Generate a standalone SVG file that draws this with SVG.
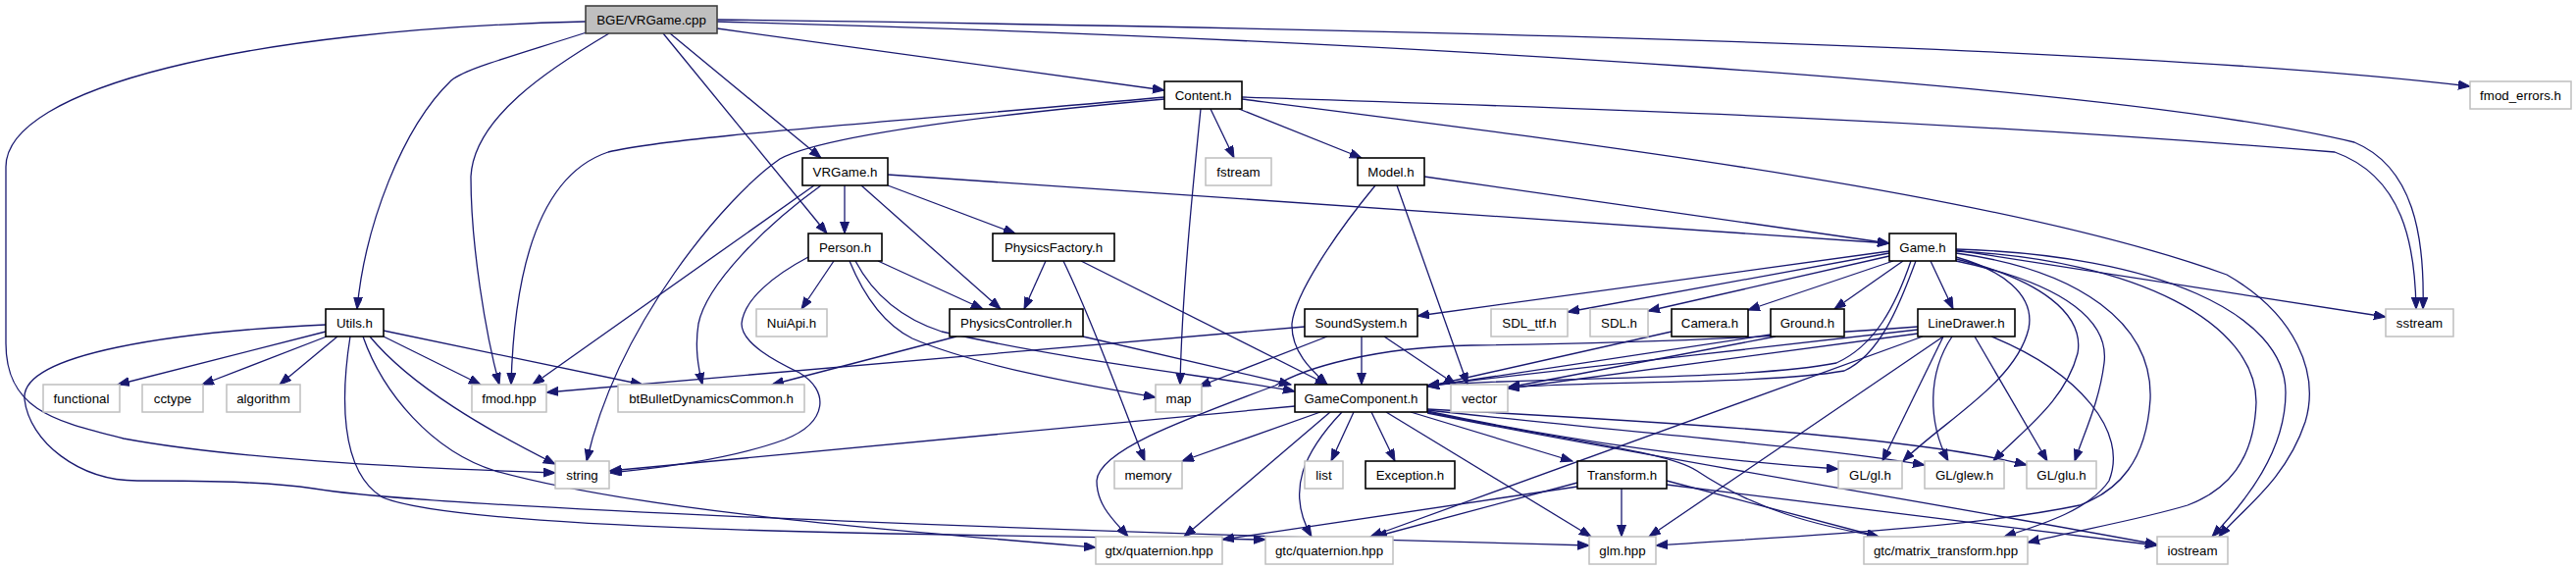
<svg xmlns="http://www.w3.org/2000/svg" width="2626" height="581" viewBox="0 0 2626 581">
<style>
.n rect{fill:#fff;stroke:#000;stroke-width:1.6}
.x rect{fill:#fff;stroke:#bfbfbf;stroke-width:1.5}
.r rect{fill:#bfbfbf;stroke:#404040;stroke-width:1.6}
text{font-family:"Liberation Sans",Arial,Helvetica,sans-serif;font-size:13.3px;text-anchor:middle;fill:#000}
#edges path{fill:none;stroke:#191970;stroke-width:1.3;marker-end:url(#a)}
</style>
<defs>
<marker id="a" markerWidth="13" markerHeight="10" refX="12" refY="4.5" orient="auto" markerUnits="userSpaceOnUse">
<path d="M0,0 L12,4.5 L0,9 z" fill="#191970" stroke="#191970" stroke-width="1"/>
</marker>
</defs>
<rect width="2626" height="581" fill="#fff"/>
<g id="edges">
<path d="M731,29 L1187,92"/>
<path d="M731,20 C1500,30 2200,50 2518,88"/>
<path d="M731,22 C1400,40 2150,85 2400,145 C2460,170 2472,240 2470,315"/>
<path d="M683,34 L837,161"/>
<path d="M676,34 L843,238"/>
<path d="M598,33 C520,58 475,70 460,82 C410,130 372,230 364,315"/>
<path d="M621,34 C560,70 483,120 480,180 C480,250 495,340 509,392"/>
<path d="M597,22 C250,30 6,90 6,170 L6,350 C6,420 60,430 126,447 C250,470 450,478 566,482"/>
<path d="M1187,99 C900,125 680,140 620,155 C560,175 525,250 521,392"/>
<path d="M1187,101 C1000,118 840,138 795,162 C740,200 630,330 598,470"/>
<path d="M1224,111 C1215,200 1205,300 1203,392"/>
<path d="M1234,111 L1258,161"/>
<path d="M1263,111 L1388,161"/>
<path d="M1266,99 C1600,110 1950,120 2380,155 C2450,180 2462,250 2463,315"/>
<path d="M1266,101 C1650,150 2050,200 2270,280 C2340,320 2365,380 2350,430 C2330,490 2285,520 2262,547"/>
<path d="M861,189 L861,238"/>
<path d="M905,189 L1035,238"/>
<path d="M905,178 L1926,248"/>
<path d="M830,189 L543,392"/>
<path d="M837,189 C780,230 720,290 712,330 C708,355 712,375 716,392"/>
<path d="M878,189 L1020,315"/>
<path d="M824,262 C790,280 758,305 756,330 C756,350 790,368 815,380 C845,398 845,430 800,448 C740,470 660,478 622,482"/>
<path d="M850,266 L817,315"/>
<path d="M866,266 C880,300 900,330 930,345 C1000,375 1120,395 1178,405"/>
<path d="M872,266 C890,300 920,325 960,338 C1100,370 1250,385 1320,399"/>
<path d="M895,266 L1002,315"/>
<path d="M1066,266 L1044,315"/>
<path d="M1084,266 C1110,320 1140,400 1167,470"/>
<path d="M1102,266 L1353,392"/>
<path d="M975,343 L787,392"/>
<path d="M1104,343 L1316,392"/>
<path d="M332,338 L120,392"/>
<path d="M333,343 L206,392"/>
<path d="M344,343 L285,392"/>
<path d="M391,343 L490,392"/>
<path d="M391,337 L655,392"/>
<path d="M377,343 C420,395 500,440 566,473"/>
<path d="M370,343 C390,400 440,460 505,480 C650,520 900,540 1117,558"/>
<path d="M357,343 C348,400 345,480 390,507 C470,540 900,545 1290,550"/>
<path d="M332,331 C180,338 20,360 25,407 C30,450 80,490 140,490 C230,490 280,492 320,498 C450,520 1200,545 1620,556"/>
<path d="M1330,333 L557,400"/>
<path d="M1353,343 L1222,394"/>
<path d="M1388,343 L1388,392"/>
<path d="M1411,343 L1484,392"/>
<path d="M1452,180 L1926,248"/>
<path d="M1402,189 C1360,240 1320,300 1317,330 C1316,360 1340,380 1353,392"/>
<path d="M1424,189 L1496,392"/>
<path d="M1926,256 L1445,322"/>
<path d="M1926,258 L1598,318"/>
<path d="M1926,261 L1680,317"/>
<path d="M1930,266 L1782,316"/>
<path d="M1940,266 L1870,315"/>
<path d="M1968,266 L1991,315"/>
<path d="M1953,266 C1940,300 1920,360 1880,378 C1800,392 1620,388 1537,395"/>
<path d="M1948,266 C1933,310 1912,352 1872,370 C1780,388 1560,384 1455,393"/>
<path d="M1994,255 L2432,323"/>
<path d="M1994,262 C2040,275 2075,300 2068,335 C2055,390 1980,430 1940,470"/>
<path d="M1994,264 C2080,285 2125,320 2118,360 C2105,410 2060,440 2032,470"/>
<path d="M1994,266 C2110,290 2150,330 2145,370 C2140,410 2125,440 2115,470"/>
<path d="M1994,258 C2120,275 2195,330 2192,407 C2188,470 2160,500 2120,515 C2000,540 1800,548 1688,556"/>
<path d="M1994,256 C2180,265 2300,330 2300,410 C2298,470 2270,500 2230,515 C2180,530 2120,540 2067,553"/>
<path d="M1994,254 C2200,260 2330,320 2330,400 C2330,460 2290,510 2255,547"/>
<path d="M1704,338 L1455,394"/>
<path d="M1805,341 L1455,394"/>
<path d="M1810,343 L1537,395"/>
<path d="M1955,336 C1800,355 1600,375 1455,393"/>
<path d="M1955,340 C1800,360 1650,380 1537,396"/>
<path d="M1955,333 C1800,345 1650,350 1500,352 C1400,354 1330,375 1300,393 C1200,430 1120,460 1118,490 C1118,515 1135,530 1150,547"/>
<path d="M1960,343 L1397,547"/>
<path d="M1981,343 L1681,547"/>
<path d="M1981,343 L1919,470"/>
<path d="M1990,343 C1965,380 1965,430 1986,470"/>
<path d="M2013,343 L2087,470"/>
<path d="M2030,343 C2120,380 2170,440 2150,490 C2130,520 2080,535 2043,547"/>
<path d="M1320,414 L621,480"/>
<path d="M1346,420 L1205,470"/>
<path d="M1356,420 L1207,547"/>
<path d="M1368,420 C1330,460 1310,500 1337,547"/>
<path d="M1380,420 L1357,470"/>
<path d="M1398,420 L1422,470"/>
<path d="M1413,420 L1622,547"/>
<path d="M1438,420 L1603,470"/>
<path d="M1455,419 C1600,450 1750,470 1874,478"/>
<path d="M1455,418 C1650,440 1850,455 1962,474"/>
<path d="M1455,417 C1700,430 1950,445 2066,474"/>
<path d="M1455,420 C1600,450 1700,460 1730,480 C1790,520 1850,535 1915,547"/>
<path d="M1455,421 C1700,470 1900,500 2199,555"/>
<path d="M1608,496 L1246,550"/>
<path d="M1608,492 L1402,547"/>
<path d="M1653,498 L1653,547"/>
<path d="M1699,490 L1915,547"/>
<path d="M1699,494 L2199,556"/>
</g>
<g id="n0" class="r"><rect x="597" y="6" width="134" height="28"/><text x="664" y="24.5">BGE/VRGame.cpp</text></g>
<g id="n1" class="n"><rect x="1187" y="83" width="79" height="28"/><text x="1226.5" y="101.5">Content.h</text></g>
<g id="n2" class="x"><rect x="2518" y="83" width="103" height="28"/><text x="2569.5" y="101.5">fmod_errors.h</text></g>
<g id="n3" class="n"><rect x="818" y="161" width="87" height="28"/><text x="861.5" y="179.5">VRGame.h</text></g>
<g id="n4" class="x"><rect x="1229" y="161" width="67" height="28"/><text x="1262.5" y="179.5">fstream</text></g>
<g id="n5" class="n"><rect x="1384" y="161" width="68" height="28"/><text x="1418" y="179.5">Model.h</text></g>
<g id="n6" class="n"><rect x="824" y="238" width="75" height="28"/><text x="861.5" y="256.5">Person.h</text></g>
<g id="n7" class="n"><rect x="1012" y="238" width="124" height="28"/><text x="1074" y="256.5">PhysicsFactory.h</text></g>
<g id="n8" class="n"><rect x="1926" y="238" width="68" height="28"/><text x="1960" y="256.5">Game.h</text></g>
<g id="n9" class="n"><rect x="332" y="315" width="59" height="28"/><text x="361.5" y="333.5">Utils.h</text></g>
<g id="n10" class="x"><rect x="771" y="315" width="72" height="28"/><text x="807" y="333.5">NuiApi.h</text></g>
<g id="n11" class="n"><rect x="968" y="315" width="136" height="28"/><text x="1036" y="333.5">PhysicsController.h</text></g>
<g id="n12" class="n"><rect x="1330" y="315" width="115" height="28"/><text x="1387.5" y="333.5">SoundSystem.h</text></g>
<g id="n13" class="x"><rect x="1520" y="315" width="78" height="28"/><text x="1559" y="333.5">SDL_ttf.h</text></g>
<g id="n14" class="x"><rect x="1621" y="315" width="59" height="28"/><text x="1650.5" y="333.5">SDL.h</text></g>
<g id="n15" class="n"><rect x="1704" y="315" width="78" height="28"/><text x="1743" y="333.5">Camera.h</text></g>
<g id="n16" class="n"><rect x="1805" y="315" width="75" height="28"/><text x="1842.5" y="333.5">Ground.h</text></g>
<g id="n17" class="n"><rect x="1955" y="315" width="99" height="28"/><text x="2004.5" y="333.5">LineDrawer.h</text></g>
<g id="n18" class="x"><rect x="2432" y="315" width="69" height="28"/><text x="2466.5" y="333.5">sstream</text></g>
<g id="n19" class="x"><rect x="44" y="392" width="78" height="28"/><text x="83" y="410.5">functional</text></g>
<g id="n20" class="x"><rect x="145" y="392" width="62" height="28"/><text x="176" y="410.5">cctype</text></g>
<g id="n21" class="x"><rect x="231" y="392" width="75" height="28"/><text x="268.5" y="410.5">algorithm</text></g>
<g id="n22" class="x"><rect x="481" y="392" width="76" height="28"/><text x="519" y="410.5">fmod.hpp</text></g>
<g id="n23" class="x"><rect x="630" y="392" width="190" height="28"/><text x="725" y="410.5">btBulletDynamicsCommon.h</text></g>
<g id="n24" class="x"><rect x="1178" y="392" width="47" height="28"/><text x="1201.5" y="410.5">map</text></g>
<g id="n25" class="n"><rect x="1320" y="392" width="135" height="28"/><text x="1387.5" y="410.5">GameComponent.h</text></g>
<g id="n26" class="x"><rect x="1479" y="392" width="58" height="28"/><text x="1508" y="410.5">vector</text></g>
<g id="n27" class="x"><rect x="566" y="470" width="55" height="28"/><text x="593.5" y="488.5">string</text></g>
<g id="n28" class="x"><rect x="1136" y="470" width="69" height="28"/><text x="1170.5" y="488.5">memory</text></g>
<g id="n29" class="x"><rect x="1330" y="470" width="39" height="28"/><text x="1349.5" y="488.5">list</text></g>
<g id="n30" class="n"><rect x="1392" y="470" width="91" height="28"/><text x="1437.5" y="488.5">Exception.h</text></g>
<g id="n31" class="n"><rect x="1608" y="470" width="91" height="28"/><text x="1653.5" y="488.5">Transform.h</text></g>
<g id="n32" class="x"><rect x="1874" y="470" width="65" height="28"/><text x="1906.5" y="488.5">GL/gl.h</text></g>
<g id="n33" class="x"><rect x="1962" y="470" width="81" height="28"/><text x="2002.5" y="488.5">GL/glew.h</text></g>
<g id="n34" class="x"><rect x="2066" y="470" width="71" height="28"/><text x="2101.5" y="488.5">GL/glu.h</text></g>
<g id="n35" class="x"><rect x="1117" y="547" width="129" height="28"/><text x="1181.5" y="565.5">gtx/quaternion.hpp</text></g>
<g id="n36" class="x"><rect x="1290" y="547" width="130" height="28"/><text x="1355" y="565.5">gtc/quaternion.hpp</text></g>
<g id="n37" class="x"><rect x="1620" y="547" width="68" height="28"/><text x="1654" y="565.5">glm.hpp</text></g>
<g id="n38" class="x"><rect x="1900" y="547" width="167" height="28"/><text x="1983.5" y="565.5">gtc/matrix_transform.hpp</text></g>
<g id="n39" class="x"><rect x="2199" y="547" width="72" height="28"/><text x="2235" y="565.5">iostream</text></g>
</svg>
